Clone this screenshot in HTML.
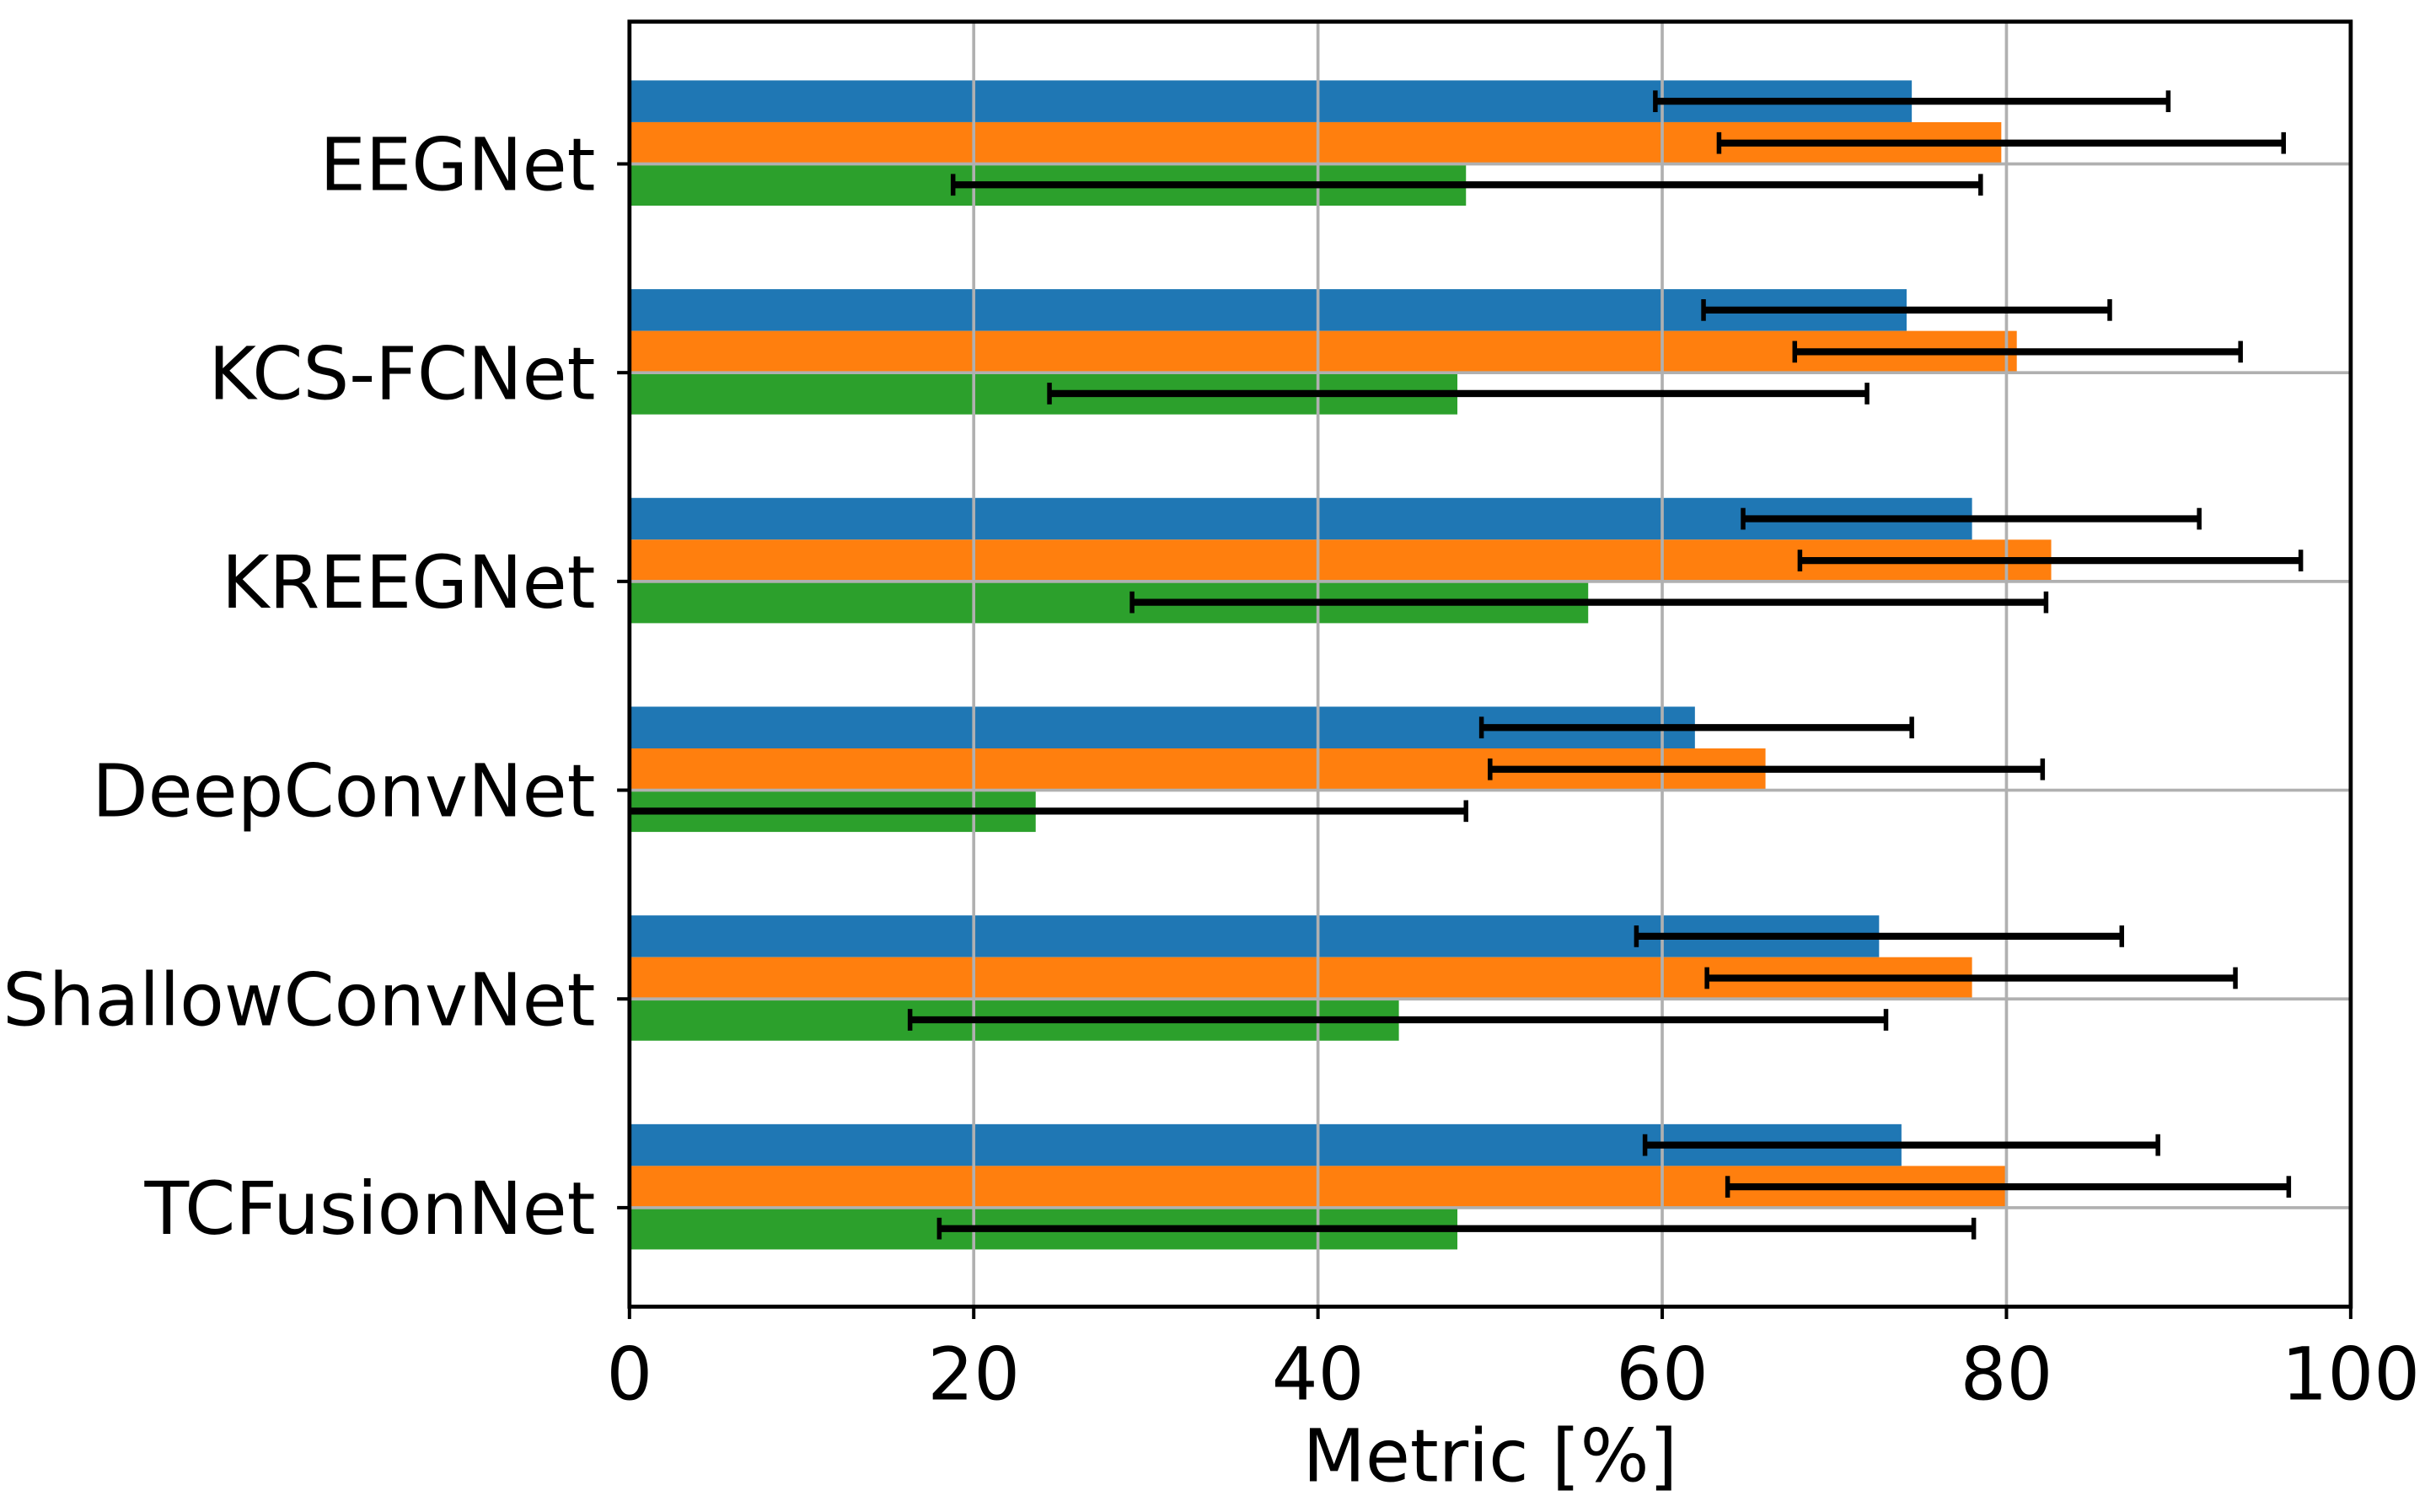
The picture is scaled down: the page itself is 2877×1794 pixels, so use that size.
<!DOCTYPE html>
<html><head><meta charset="utf-8"><style>
html,body{margin:0;padding:0;background:#fff;}
svg{display:block;}
text{font-family:"DejaVu Sans","Liberation Sans",sans-serif;fill:#000;}
</style></head><body>
<svg id="chart" width="2877" height="1794" viewBox="0 0 1568 977.8" xmlns="http://www.w3.org/2000/svg"></svg>
<script>
const categories = ["EEGNet","KCS-FCNet","KREEGNet","DeepConvNet","ShallowConvNet","TCFusionNet"];
const blueVals = [74.5,74.2,78.0,61.9,72.6,73.9];
const blueLo = [59.6,62.4,64.7,49.5,58.5,59.0];
const blueHi = [89.4,86.0,91.2,74.5,86.7,88.8];
const orangeVals = [79.7,80.6,82.6,66.0,78.0,80.0];
const orangeLo = [63.3,67.7,68.0,50.0,62.6,63.8];
const orangeHi = [96.1,93.6,97.1,82.1,93.3,96.4];
const greenVals = [48.6,48.1,55.7,23.6,44.7,48.1];
const greenLo = [18.8,24.4,29.2,-1.5,16.3,18.0];
const greenHi = [78.5,71.9,82.3,48.6,73.0,78.1];
const xTicks = [0,20,40,60,80,100];

const NS="http://www.w3.org/2000/svg";
const svg=document.getElementById('chart');
const L=407,R=1520,T=14,B=845;
const xs=v=>L+(Math.max(0,Math.min(100,v)))/100*(R-L);
const yc=i=>106+135*i;
const bh=27;
function mk(tag,attrs){const e=document.createElementNS(NS,tag);for(const k in attrs)e.setAttribute(k,attrs[k]);svg.appendChild(e);return e;}

const series=[
 {name:'blue',vals:blueVals,lo:blueLo,hi:blueHi,color:'#1f77b4',off:-2},
 {name:'orange',vals:orangeVals,lo:orangeLo,hi:orangeHi,color:'#ff7f0e',off:-1},
 {name:'green',vals:greenVals,lo:greenLo,hi:greenHi,color:'#2ca02c',off:0}
];
series.forEach(s=>{
 s.vals.forEach((v,i)=>{
  const r=mk('rect',{x:xs(0),y:yc(i)+s.off*bh,width:xs(v)-xs(0),height:bh,fill:s.color});
  
  
 });
});
xTicks.forEach(t=>{
 const g=mk('line',{x1:xs(t),x2:xs(t),y1:T,y2:B,stroke:'#b0b0b0','stroke-width':2});
 
 
});
categories.forEach((c,i)=>{
 const g=mk('line',{x1:L,x2:R,y1:yc(i),y2:yc(i),stroke:'#b0b0b0','stroke-width':2});
 
 
});
series.forEach(s=>{
 s.vals.forEach((v,i)=>{
  const y=yc(i)+s.off*bh+bh/2;
  const a=xs(s.lo[i]),b=xs(s.hi[i]);
  const e=mk('line',{x1:a,x2:b,y1:y,y2:y,stroke:'#000','stroke-width':4.5});
  
  
  [s.lo[i],s.hi[i]].forEach(q=>{
   if(q<0||q>100)return;
   const c=mk('line',{x1:xs(q),x2:xs(q),y1:y-7,y2:y+7,stroke:'#000','stroke-width':3});
   
   
  });
 });
});
const fr=mk('rect',{x:L,y:T,width:R-L,height:B-T,fill:'none',stroke:'#000','stroke-width':2.6});


xTicks.forEach(t=>{
 const k=mk('line',{x1:xs(t),x2:xs(t),y1:B,y2:B+8,stroke:'#000','stroke-width':2.2});
 
 
 const tx=mk('text',{x:xs(t),y:B+60,'text-anchor':'middle','font-size':47});
 tx.textContent=t;
 
 
});
categories.forEach((c,i)=>{
 const k=mk('line',{x1:L-8,x2:L,y1:yc(i),y2:yc(i),stroke:'#000','stroke-width':2.2});
 
 
 const tx=mk('text',{x:L-22,y:yc(i)+17,'text-anchor':'end','font-size':47});
 tx.textContent=c;
 
 
});
const xl=mk('text',{x:(L+R)/2,y:958,'text-anchor':'middle','font-size':47});
xl.textContent='Metric [%]';


</script>
</body></html>
